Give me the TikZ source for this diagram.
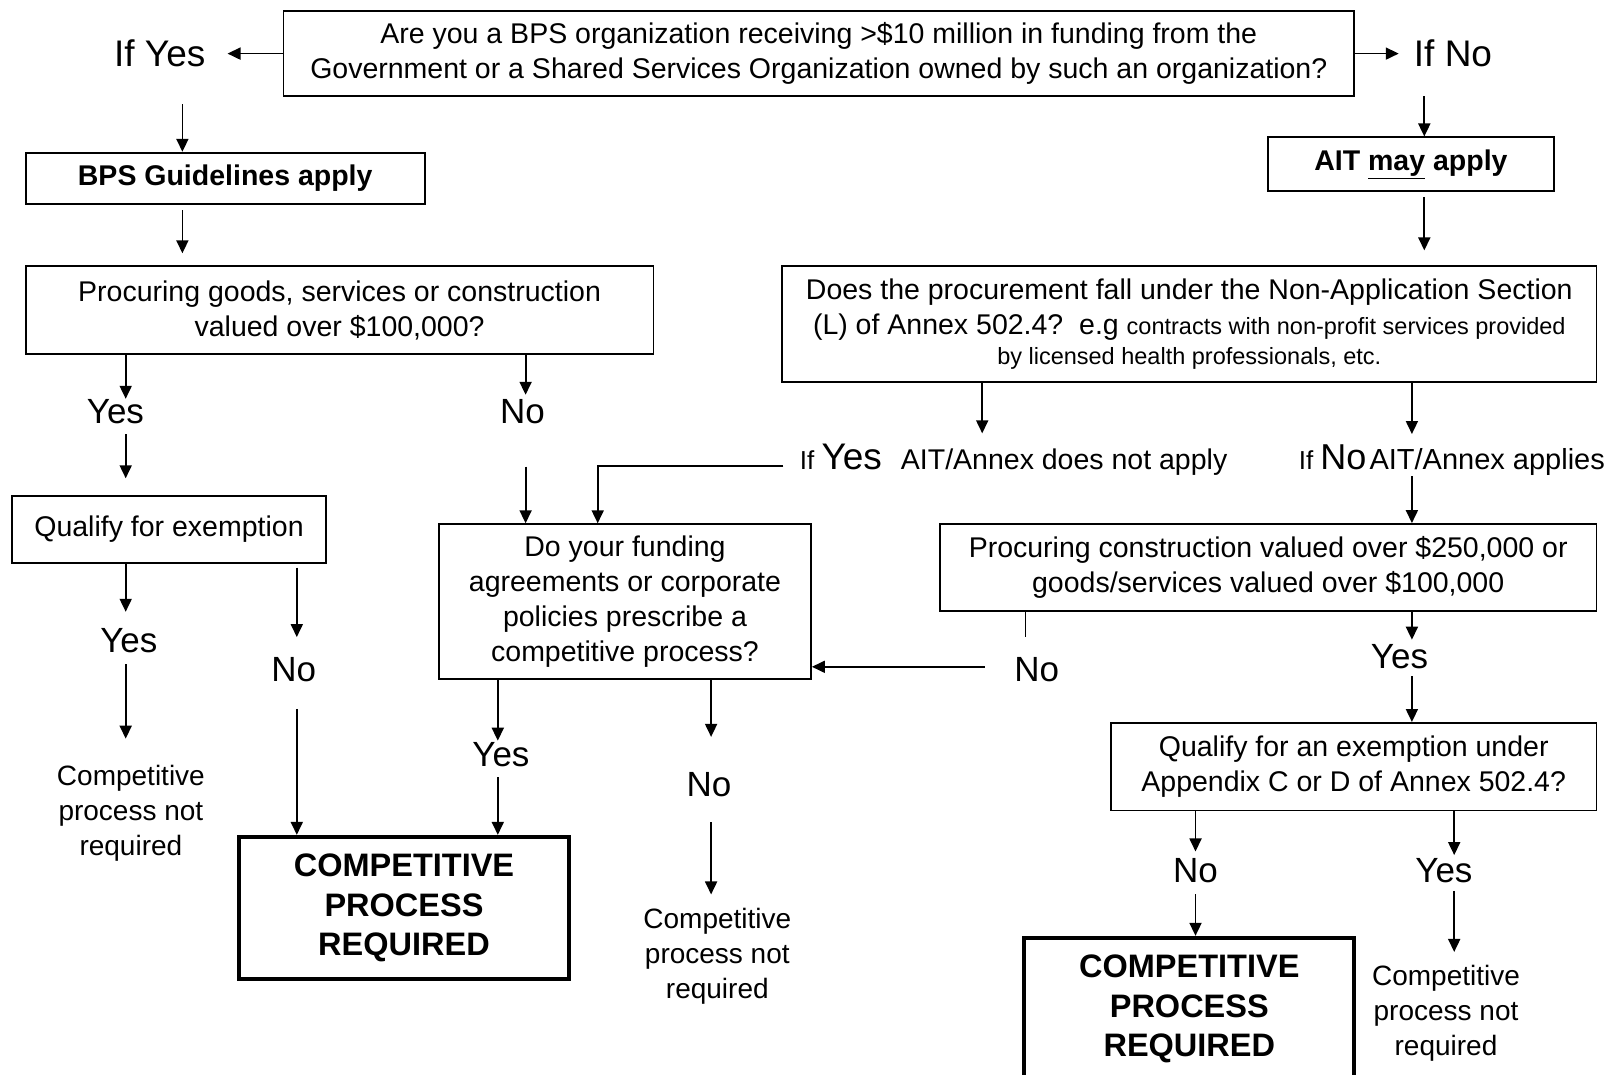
\documentclass[tikz,border=0pt]{standalone}
\usepackage{fontspec}
\setmainfont{Liberation Sans}
\usetikzlibrary{arrows.meta}
\newcommand{\myfs}[2]{\fontsize{#1}{#2}\selectfont}
\tikzset{
  box/.style={draw, line width=1.8pt, inner sep=0pt, align=center, font=\myfs{28.5}{35}},
  lbl/.style={inner sep=0pt, font=\myfs{35}{40}},
  toplbl/.style={inner sep=0pt, font=\myfs{37}{42}},
  note/.style={inner sep=0pt, align=center, font=\myfs{28}{35}},
  cpr/.style={draw, line width=4pt, inner sep=0pt, align=center, font=\myfs{32.5}{39.7}\bfseries, minimum width=329.8pt, minimum height=142.3pt},
  arr/.style={-{Triangle[length=13pt,width=12pt]}, line width=1.8pt},
  ln/.style={line width=1.8pt}
}
\begin{document}
\begin{tikzpicture}[x=1pt,y=-1pt]
\useasboundingbox (0,0) rectangle (1616,1075);
\fill[white] (0,0) rectangle (1616,1075);

% column / row coordinates
\coordinate (c1) at (182.4,0);
\coordinate (c2) at (125.7,0);
\coordinate (c3) at (525.6,0);
\coordinate (c4) at (597.7,0);
\coordinate (c5) at (982.2,0);
\coordinate (c6) at (1411.9,0);
\coordinate (c7) at (1025.4,0);
\coordinate (c8) at (1195.5,0);
\coordinate (c9) at (1454.2,0);
\coordinate (c10) at (296.8,0);
\coordinate (c11) at (497.8,0);
\coordinate (c12) at (711.1,0);
\coordinate (c13) at (1424.3,0);
\coordinate (r1) at (0,465.8);
\coordinate (r2) at (0,666.8);

% boxes
\node[box, minimum width=1070.8pt, minimum height=85.5pt] (top) at (818.8,53.5)
  {Are you a BPS organization receiving >\$10 million in funding from the\\Government or a Shared Services Organization owned by such an organization?};
\node[toplbl] (ifyes) at (159.7,53.6) {If Yes};
\node[toplbl] (ifno) at (1453,53.6) {If No};

\node[box, font=\myfs{28.5}{35}\bfseries, minimum width=398.8pt, minimum height=51.6pt] (bps) at (225.2,178.5) {BPS Guidelines apply};
\node[box, minimum width=627.6pt, minimum height=87.6pt] (proc) at (339.6,310)
  {Procuring goods, services or construction\\valued over \$100,000?};
\node[lbl] (yes1) at (115.4,411.2) {Yes};
\node[lbl] (no1) at (522.5,411.2) {No};
\node[box, minimum width=313.3pt, minimum height=67pt] (qual) at (169,529.2) {Qualify for exemption};
\node[lbl] (yes3) at (128.8,641) {Yes};
\node[lbl] (no3) at (293.7,669.9) {No};
\node[note] (cnr1) at (130.9,813.5) {Competitive\\process not\\required};
\node[cpr] (cpr1) at (404,908) {COMPETITIVE\\PROCESS\\REQUIRED};

\node[box, minimum width=372pt, minimum height=154.6pt] (fund) at (625,601.5)
  {Do your funding\\agreements or corporate\\policies prescribe a\\competitive process?};
\node[lbl] (yes4) at (500.9,754.4) {Yes};
\node[lbl] (no4) at (709,784.3) {No};
\node[note] (cnr2) at (717.3,956) {Competitive\\process not\\required};

\node[box, font=\myfs{28.5}{35}\bfseries, minimum width=286.5pt, minimum height=53.6pt] (ait) at (1410.9,164.2) {AIT \underline{may} apply};
\node[box, minimum width=814.2pt, minimum height=115.4pt] (nonapp) at (1189.3,324)
  {Does the procurement fall under the Non-Application Section\\(L) of Annex 502.4?~~e.g {\myfs{23.5}{28}contracts with non-profit services provided}\\[-5pt]{\myfs{23.5}{28}by licensed health professionals, etc.}};
\node[inner sep=0pt, anchor=base west] (ifyesR) at (799.7,469)
  {\myfs{26}{30}If \myfs{37}{40}Yes\hspace{19pt}\myfs{28.5}{35}AIT/Annex does not apply};
\node[inner sep=0pt, anchor=base west] (ifnoR) at (1298.6,469)
  {\myfs{26}{30}If \myfs{36}{40}No\hspace{3pt}\myfs{29}{35}AIT/Annex applies};
\node[box, minimum width=656.5pt, minimum height=86.6pt] (cons) at (1268.2,567.3)
  {Procuring construction valued over \$250,000 or\\goods/services valued over \$100,000};
\node[lbl] (nolab) at (1036.8,669.9) {No};
\node[lbl] (ylab) at (1399.5,656.5) {Yes};
\node[box, minimum width=485.4pt, minimum height=87.6pt] (qapp) at (1353.7,766.7)
  {Qualify for an exemption under\\Appendix C or D of Annex 502.4?};
\node[lbl] (no2) at (1195.5,870.9) {No};
\node[lbl] (yes2) at (1443.9,870.9) {Yes};
\node[cpr] (cpr2) at (1189.3,1009) {COMPETITIVE\\PROCESS\\REQUIRED};
\node[note] (cnr3) at (1446,1013.5) {Competitive\\process not\\required};

% connectors
\draw[arr, shorten >=22pt] (top.west |- ifyes.east) -- (ifyes.east);
\draw[arr, shorten >=15pt] (top.east |- ifno.west) -- (ifno.west);
\draw[arr, shorten <=37pt] (ifyes.south -| c1) -- (bps.north -| c1);
\draw[arr, shorten <=5pt, shorten >=12pt] (bps.south -| c1) -- (proc.north -| c1);
\draw[arr, shorten <=29pt] (ifno.south -| c13) -- (ait.north -| c13);
\draw[arr, shorten <=5pt, shorten >=15pt] (ait.south -| c13) -- (nonapp.north -| c13);

\draw[arr] (proc.south -| c2) -- (yes1.north -| c2);
\draw[arr, shorten >=4pt] (proc.south -| c3) -- (no1.north -| c3);
\draw[arr, shorten <=10.6pt, shorten >=16.5pt] (yes1.south -| c2) -- (qual.north -| c2);
\draw[arr, shorten <=43pt] (no1.south -| c3) -- (fund.north -| c3);
\draw[arr, shorten <=16.4pt] (ifyesR.west |- r1) -| (fund.north -| c4);

\draw[arr, shorten >=16.8pt] (qual.south -| c2) -- (yes3.north -| c2);
\draw[arr, shorten <=10.6pt, shorten >=26.6pt] (yes3.south -| c2) -- (cnr1.north -| c2);
\draw[arr, shorten <=4pt, shorten >=20.4pt] (qual.south -| c10) -- (no3.north -| c10);
\draw[arr, shorten <=26.6pt] (no3.south -| c10) -- (cpr1.north -| c10);

\draw[arr, shorten >=1.3pt] (fund.south -| c11) -- (yes4.north -| c11);
\draw[arr, shorten <=10.6pt] (yes4.south -| c11) -- (cpr1.north -| c11);
\draw[arr, shorten >=35pt] (fund.south -| c12) -- (no4.north -| c12);
\draw[arr, shorten <=25.6pt, shorten >=13.3pt] (no4.south -| c12) -- (cnr2.north -| c12);

\draw[arr, shorten >=10pt] (nonapp.south -| c5) -- (ifyesR.north -| c5);
\draw[arr, shorten >=10pt] (nonapp.south -| c6) -- (ifnoR.north -| c6);
\draw[arr, shorten <=1pt] (ifnoR.south -| c6) -- (cons.north -| c6);
\draw[arr, shorten >=4.4pt] (cons.south -| c6) -- (ylab.north -| c6);
\draw[arr, shorten <=7.5pt] (ylab.south -| c6) -- (qapp.north -| c6);
\draw[ln, shorten >=20.5pt] (cons.south -| c7) -- (nolab.north -| c7);
\draw[arr, shorten <=29.6pt] (nolab.west |- r2) -- (fund.east |- r2);

\draw[arr, shorten >=7pt] (qapp.south -| c8) -- (no2.north -| c8);
\draw[arr, shorten <=11pt] (no2.south -| c8) -- (cpr2.north -| c8);
\draw[arr, shorten >=3.4pt] (qapp.south -| c9) -- (yes2.north -| c9);
\draw[arr, shorten <=7.5pt, shorten >=13.3pt] (yes2.south -| c9) -- (cnr3.north -| c9);
\end{tikzpicture}
\end{document}
